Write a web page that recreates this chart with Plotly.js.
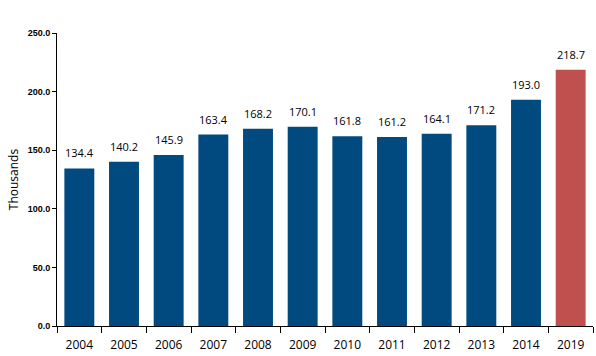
<!DOCTYPE html>
<html><head><meta charset="utf-8">
<script src="https://cdn.plot.ly/plotly-3.0.1.min.js"></script>
<style>html,body{margin:0;padding:0;background:#fff}#c{width:596px;height:356px}</style>
</head><body><div id="c"></div>
<script>
const years = ["2004","2005","2006","2007","2008","2009","2010","2011","2012","2013","2014","2019"];
const values = [134.4,140.2,145.9,163.4,168.2,170.1,161.8,161.2,164.1,171.2,193.0,218.7];
const yTicks = [0,50,100,150,200,250];
const yTickLabels = ["0.0","50.0","100.0","150.0","200.0","250.0"];
const blue = "#014A7F", red = "#C0504D";
const colors = years.map(y => y === "2019" ? red : blue);
const annotations = years.map((y, i) => ({
  x: i, y: values[i], xref: "x", yref: "y", text: values[i].toFixed(1), showarrow: false,
  yanchor: "bottom", yshift: 6,
  font: {family: "Open Sans, sans-serif", size: 11, color: "#000"}
}));
Plotly.newPlot("c", [{
  type: "bar", x: years, y: values,
  marker: {color: colors},
  hoverinfo: "none"
}], {
  width: 596, height: 356,
  margin: {l: 57, r: 3, t: 33, b: 30},
  bargap: 0.33,
  showlegend: false,
  annotations: annotations,
  paper_bgcolor: "#fff", plot_bgcolor: "#fff",
  xaxis: {
    type: "category", tickson: "boundaries", ticks: "outside", ticklen: 6,
    tickcolor: "#000", showline: true, linecolor: "#000", linewidth: 1,
    showgrid: false, ticklabelstandoff: 8,
    tickfont: {family: "Open Sans, sans-serif", size: 12, color: "#000"},
    range: [-0.5, 11.5]
  },
  yaxis: {
    range: [0, 250], tickvals: yTicks, ticktext: yTickLabels,
    ticks: "outside", ticklen: 4, tickcolor: "#000",
    showline: true, linecolor: "#000", linewidth: 1, showgrid: false, zeroline: false,
    tickfont: {family: "Liberation Sans Narrow, Liberation Sans, sans-serif", size: 9, color: "#000", weight: "bold"},
    title: {text: "Thousands", font: {family: "Open Sans, sans-serif", size: 12, color: "#000"}, standoff: 6}
  }
}, {displayModeBar: false, staticPlot: true});
</script></body></html>
